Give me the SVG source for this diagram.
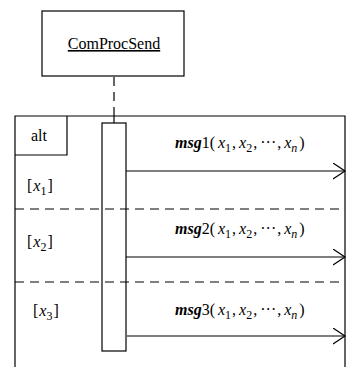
<svg xmlns="http://www.w3.org/2000/svg" width="350" height="367" viewBox="0 0 350 367">
  <style>
    .ln { stroke: #000; stroke-width: 1.2; fill: none; }
    .dash { stroke: #000; stroke-width: 1.2; fill: none; stroke-dasharray: 9 6; }
    .txt { font-family: "Liberation Serif", "Times New Roman", serif; font-size: 16px; fill: #000; }
    .msg { font-weight: bold; font-style: italic; }
    .var { font-style: italic; }
    .sub { font-size: 12px; }
  </style>
  <defs>
    <marker id="open" markerWidth="14" markerHeight="18" refX="12" refY="8" orient="auto" markerUnits="userSpaceOnUse">
      <path d="M0,0 L12,8 L0,16" fill="none" stroke="#000" stroke-width="1.2"/>
    </marker>
  </defs>

  <!-- lifeline head -->
  <g id="ComProcSend">
    <rect class="ln" x="42" y="11" width="142" height="65" fill="#fff"/>
    <text class="txt" x="114" y="49" text-anchor="middle" font-size="17.5" text-decoration="underline">ComProcSend</text>
  </g>

  <!-- combined fragment -->
  <g id="alt-frame">
    <path class="ln" d="M15,367 L15,116 L345,116 L345,367"/>
    <path class="ln" d="M15,155 L67,155 L67,116"/>
    <text class="txt" x="39" y="141" text-anchor="middle">alt</text>
  </g>

  <!-- operand guards -->
  <g id="guard-x1">
    <text class="txt" x="27" y="191">[<tspan class="var" dx="1">x</tspan><tspan class="sub" dy="4">1</tspan><tspan dy="-4" dx="1">]</tspan></text>
  </g>
  <g id="guard-x2">
    <text class="txt" x="27" y="247">[<tspan class="var" dx="1">x</tspan><tspan class="sub" dy="4">2</tspan><tspan dy="-4" dx="1">]</tspan></text>
  </g>
  <g id="guard-x3">
    <text class="txt" x="33" y="316">[<tspan class="var" dx="1">x</tspan><tspan class="sub" dy="4">3</tspan><tspan dy="-4" dx="1">]</tspan></text>
  </g>

  <!-- activation bar -->
  <g id="activation">
    <rect class="ln" x="102" y="123" width="24" height="228" fill="#fff"/>
  </g>

  <!-- connectors -->
  <g id="connectors">
    <line class="dash" x1="114" y1="77" x2="114" y2="116"/>
    <line class="ln" x1="114" y1="116" x2="114" y2="123"/>
    <line class="dash" x1="15" y1="209" x2="345" y2="209"/>
    <line class="dash" x1="15" y1="282" x2="345" y2="282"/>
    <line class="ln" x1="126" y1="171" x2="345" y2="171" marker-end="url(#open)"/>
    <line class="ln" x1="126" y1="257" x2="345" y2="257" marker-end="url(#open)"/>
    <line class="ln" x1="127" y1="336" x2="345" y2="336" marker-end="url(#open)"/>
  </g>

  <!-- message labels -->
  <g id="labels">
    <text class="txt" x="175" y="148"><tspan class="msg">msg</tspan>1(<tspan class="var" dx="3">x</tspan><tspan class="sub" dy="4">1</tspan><tspan dy="-4" dx="1">,</tspan><tspan class="var" dx="3">x</tspan><tspan class="sub" dy="4">2</tspan><tspan dy="-4" dx="1">,</tspan><tspan dx="3">···</tspan><tspan dx="1">,</tspan><tspan class="var" dx="3">x</tspan><tspan class="var sub" dy="4">n</tspan><tspan dy="-4" dx="2">)</tspan></text>
    <text class="txt" x="175" y="234"><tspan class="msg">msg</tspan>2(<tspan class="var" dx="3">x</tspan><tspan class="sub" dy="4">1</tspan><tspan dy="-4" dx="1">,</tspan><tspan class="var" dx="3">x</tspan><tspan class="sub" dy="4">2</tspan><tspan dy="-4" dx="1">,</tspan><tspan dx="3">···</tspan><tspan dx="1">,</tspan><tspan class="var" dx="3">x</tspan><tspan class="var sub" dy="4">n</tspan><tspan dy="-4" dx="2">)</tspan></text>
    <text class="txt" x="175" y="315"><tspan class="msg">msg</tspan>3(<tspan class="var" dx="3">x</tspan><tspan class="sub" dy="4">1</tspan><tspan dy="-4" dx="1">,</tspan><tspan class="var" dx="3">x</tspan><tspan class="sub" dy="4">2</tspan><tspan dy="-4" dx="1">,</tspan><tspan dx="3">···</tspan><tspan dx="1">,</tspan><tspan class="var" dx="3">x</tspan><tspan class="var sub" dy="4">n</tspan><tspan dy="-4" dx="2">)</tspan></text>
  </g>
</svg>
